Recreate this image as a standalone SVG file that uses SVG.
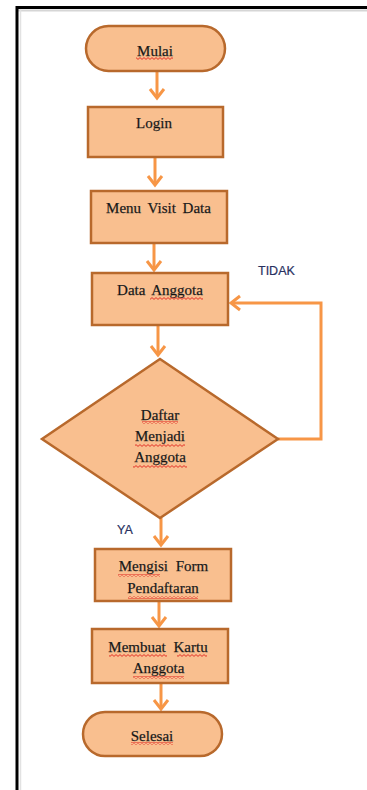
<svg xmlns="http://www.w3.org/2000/svg" width="367" height="790" viewBox="0 0 367 790">
  <defs>
    <style>
      .box { fill: #F9BF8F; stroke: #B8692C; stroke-width: 2.5; }
      .lbl { font-family: "Liberation Serif", "Times New Roman", serif; font-size: 15px; fill: #111; stroke: #333; stroke-width: 0.25; text-anchor: middle; }
      .cond { font-family: "Liberation Sans", Arial, sans-serif; font-size: 12.5px; fill: #28315F; stroke: #28315F; stroke-width: 0.2; }
      .flow { fill: none; stroke: #F79646; stroke-width: 3; marker-end: url(#head); }
      .spell { fill: url(#squiggle); }
    </style>
    <marker id="head" markerUnits="userSpaceOnUse" markerWidth="24" markerHeight="24" refX="0" refY="0" viewBox="-12 -12 24 24" orient="auto" overflow="visible">
      <path d="M-9,-7 L0,0 L-9,7" fill="none" stroke="#F79646" stroke-width="3" stroke-linejoin="miter"/>
    </marker>
    <pattern id="squiggle" patternUnits="userSpaceOnUse" width="4" height="3">
      <path d="M0,0.6 L2,2.4 L4,0.6" fill="none" stroke="#E0201C" stroke-width="0.9"/>
    </pattern>
  </defs>

  <rect width="367" height="790" fill="#ffffff"/>

  <!-- page frame -->
  <g id="frame">
    <line x1="18" y1="10.5" x2="367" y2="10.5" stroke="#d6d6d6" stroke-width="2"/>
    <line x1="20.5" y1="9" x2="20.5" y2="790" stroke="#e2e2e2" stroke-width="1.5"/>
    <path d="M17,790 V7.5 H367" fill="none" stroke="#000" stroke-width="3"/>
  </g>

  <!-- connectors -->
  <g id="connectors">
    <path class="flow" d="M157,71 V98"/>
    <path class="flow" d="M155,157 V185"/>
    <path class="flow" d="M154,243 V270"/>
    <path class="flow" d="M158,325 V355"/>
    <path class="flow" d="M161,518 V545"/>
    <path class="flow" d="M159,601 V626"/>
    <path class="flow" d="M161,683 V709"/>
    <path class="flow" d="M278,439 H321 V303 H231"/>
    <text class="cond" x="258" y="275">TIDAK</text>
    <text class="cond" x="117" y="534">YA</text>
  </g>

  <g id="mulai">
    <rect class="box" x="86" y="26" width="139" height="45" rx="22.5"/>
    <text class="lbl" x="155" y="56">Mulai</text>
    <rect class="spell" x="136" y="57" width="37" height="3"/>
  </g>

  <g id="login">
    <rect class="box" x="88" y="107" width="135" height="50"/>
    <text class="lbl" x="154" y="128">Login</text>
  </g>

  <g id="menu-visit-data">
    <rect class="box" x="91" y="191" width="136" height="52"/>
    <text class="lbl" x="158.5" y="213" word-spacing="3">Menu Visit Data</text>
  </g>

  <g id="data-anggota">
    <rect class="box" x="92" y="273" width="136" height="52"/>
    <text class="lbl" x="160" y="295" word-spacing="3">Data Anggota</text>
    <rect class="spell" x="150" y="297" width="53" height="3"/>
  </g>

  <g id="daftar-menjadi-anggota">
    <polygon class="box" points="160,359 278,439 160,518 42,439" stroke-width="2"/>
    <text class="lbl" x="160" y="420">Daftar</text>
    <text class="lbl" x="160" y="441">Menjadi</text>
    <text class="lbl" x="160" y="462">Anggota</text>
    <rect class="spell" x="142" y="421" width="36" height="3"/>
    <rect class="spell" x="135" y="444" width="50" height="3"/>
    <rect class="spell" x="133" y="465" width="54" height="3"/>
  </g>

  <g id="mengisi-form">
    <rect class="box" x="95" y="549" width="136" height="52"/>
    <text class="lbl" x="163.5" y="571" word-spacing="4">Mengisi Form</text>
    <text class="lbl" x="163" y="593">Pendaftaran</text>
    <rect class="spell" x="118" y="574" width="42" height="3"/>
    <rect class="spell" x="128" y="596" width="70" height="3"/>
  </g>

  <g id="membuat-kartu">
    <rect class="box" x="92" y="629" width="136" height="54"/>
    <text class="lbl" x="158" y="652" word-spacing="4">Membuat Kartu</text>
    <text class="lbl" x="158.5" y="673">Anggota</text>
    <rect class="spell" x="109" y="654" width="58" height="3"/>
    <rect class="spell" x="177" y="654" width="30" height="3"/>
    <rect class="spell" x="133" y="676" width="51" height="3"/>
  </g>

  <g id="selesai">
    <rect class="box" x="83" y="712" width="139" height="44" rx="22"/>
    <text class="lbl" x="152" y="741">Selesai</text>
    <rect class="spell" x="131" y="742" width="42" height="3"/>
  </g>
</svg>
